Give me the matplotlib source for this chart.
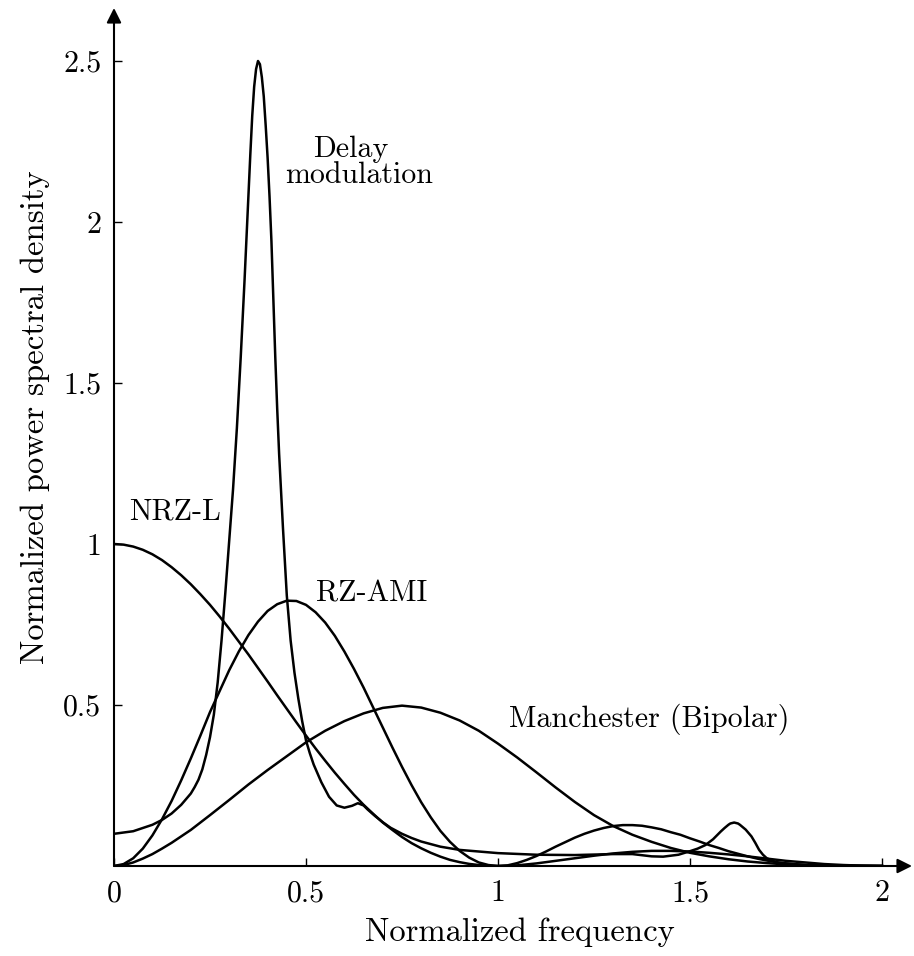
import numpy as np
import matplotlib
matplotlib.use('Agg')
import matplotlib.pyplot as plt

plt.rcParams['font.family'] = 'cmr10'
plt.rcParams['axes.formatter.use_mathtext'] = True

# ---- data ----
# NRZ-L
nrz_f = [0, 0.025, 0.05, 0.075, 0.1, 0.125, 0.15, 0.175, 0.2, 0.225, 0.25, 0.275,
         0.3, 0.325, 0.35, 0.375, 0.4, 0.425, 0.45, 0.475, 0.5, 0.525, 0.55, 0.575,
         0.6, 0.625, 0.65, 0.675, 0.7, 0.725, 0.75, 0.775, 0.8, 0.825, 0.85, 0.875,
         0.9, 0.925, 0.95, 0.975, 1.0, 1.025, 1.05, 1.075, 1.1, 1.125, 1.15, 1.175,
         1.2, 1.25, 1.3, 1.35, 1.4, 1.45, 1.5, 1.55, 1.6, 1.65, 1.7, 1.75, 1.8,
         1.85, 1.9, 1.95, 2.0]
nrz_p = [1.0, 0.998, 0.992, 0.982, 0.968, 0.950, 0.928, 0.903, 0.875, 0.844, 0.811,
         0.775, 0.737, 0.697, 0.657, 0.615, 0.573, 0.530, 0.488, 0.446, 0.405, 0.365,
         0.327, 0.290, 0.255, 0.221, 0.190, 0.162, 0.135, 0.112, 0.090, 0.071, 0.055,
         0.041, 0.029, 0.019, 0.012, 0.0065, 0.003, 0.0007, 0.0, 0.0006, 0.002,
         0.005, 0.008, 0.012, 0.016, 0.020, 0.024, 0.032, 0.039, 0.044, 0.047, 0.047,
         0.045, 0.041, 0.036, 0.030, 0.023, 0.016, 0.011, 0.006, 0.003, 0.001, 0.0]

# RZ-AMI
ami_f = [0, 0.025, 0.05, 0.075, 0.1, 0.125, 0.15, 0.175, 0.2, 0.225, 0.25, 0.275,
         0.3, 0.325, 0.35, 0.375, 0.4, 0.425, 0.45, 0.475, 0.5, 0.525, 0.55, 0.575,
         0.6, 0.625, 0.65, 0.675, 0.7, 0.725, 0.75, 0.775, 0.8, 0.825, 0.85, 0.875,
         0.9, 0.925, 0.95, 0.975, 1.0, 1.025, 1.05, 1.075, 1.1, 1.125, 1.15, 1.175,
         1.2, 1.225, 1.25, 1.275, 1.3, 1.325, 1.35, 1.375, 1.4, 1.425, 1.45, 1.475,
         1.5, 1.525, 1.55, 1.575, 1.6, 1.625, 1.65, 1.675, 1.7, 1.725, 1.75, 1.775,
         1.8, 1.85, 1.9, 2.0]
ami_p = [0.0, 0.006, 0.024, 0.054, 0.095, 0.145, 0.202, 0.266, 0.334, 0.405, 0.478,
         0.543, 0.608, 0.666, 0.717, 0.759, 0.792, 0.813, 0.824, 0.823, 0.811, 0.788,
         0.756, 0.715, 0.666, 0.612, 0.554, 0.492, 0.430, 0.368, 0.308, 0.251, 0.198,
         0.151, 0.109, 0.075, 0.047, 0.026, 0.011, 0.003, 0.0, 0.002, 0.009, 0.019,
         0.031, 0.045, 0.060, 0.074, 0.088, 0.100, 0.110, 0.118, 0.124, 0.127, 0.127,
         0.125, 0.120, 0.114, 0.105, 0.097, 0.086, 0.076, 0.065, 0.056, 0.046, 0.038,
         0.030, 0.023, 0.017, 0.012, 0.008, 0.005, 0.003, 0.001, 0.0, 0.0]

# Manchester (Bipolar)
man_f = [0, 0.025, 0.05, 0.075, 0.1, 0.125, 0.15, 0.175, 0.2, 0.25, 0.3, 0.35, 0.4,
         0.45, 0.5, 0.55, 0.6, 0.65, 0.7, 0.75, 0.8, 0.85, 0.9, 0.95, 1.0, 1.05, 1.1,
         1.15, 1.2, 1.25, 1.3, 1.35, 1.4, 1.45, 1.5, 1.55, 1.6, 1.65, 1.7, 1.75, 1.8,
         1.85, 1.9, 2.0]
man_p = [0.0, 0.003, 0.011, 0.023, 0.037, 0.054, 0.072, 0.092, 0.112, 0.158, 0.205,
         0.253, 0.298, 0.341, 0.384, 0.420, 0.450, 0.474, 0.491, 0.498, 0.492, 0.476,
         0.452, 0.420, 0.380, 0.337, 0.291, 0.244, 0.199, 0.158, 0.124, 0.097, 0.075,
         0.056, 0.041, 0.030, 0.021, 0.014, 0.009, 0.005, 0.003, 0.001, 0.0005, 0.0]

# Delay modulation
dm_f = [0, 0.05, 0.1, 0.125, 0.15, 0.175, 0.2, 0.21, 0.22, 0.23, 0.24, 0.25, 0.26,
        0.27, 0.28, 0.29, 0.30, 0.31, 0.32, 0.33, 0.34, 0.35, 0.355, 0.36, 0.365,
        0.37, 0.375, 0.38, 0.385, 0.39, 0.395, 0.40, 0.405, 0.41, 0.415, 0.42, 0.425,
        0.43, 0.44, 0.45, 0.46, 0.47, 0.48, 0.49, 0.50, 0.51, 0.52, 0.54, 0.56, 0.58,
        0.60, 0.62, 0.635, 0.65, 0.66, 0.68, 0.70, 0.72, 0.75, 0.775, 0.80, 0.85,
        0.9, 1.0, 1.1, 1.2, 1.3, 1.35, 1.4, 1.43, 1.47, 1.5, 1.52, 1.54, 1.56, 1.58,
        1.59, 1.6, 1.605, 1.615, 1.625, 1.63, 1.645, 1.66, 1.67, 1.68, 1.69, 1.70,
        1.715, 1.73, 1.8, 1.9, 2.0]
dm_p = [0.100, 0.108, 0.128, 0.143, 0.163, 0.190, 0.225, 0.245, 0.268, 0.300, 0.345,
        0.400, 0.470, 0.570, 0.700, 0.850, 1.010, 1.170, 1.360, 1.580, 1.820, 2.080,
        2.210, 2.330, 2.420, 2.475, 2.500, 2.490, 2.450, 2.390, 2.300, 2.200, 2.080,
        1.940, 1.760, 1.580, 1.420, 1.280, 1.050, 0.840, 0.700, 0.600, 0.520, 0.450,
        0.390, 0.350, 0.315, 0.260, 0.215, 0.188, 0.181, 0.187, 0.195, 0.188, 0.176,
        0.155, 0.136, 0.119, 0.100, 0.087, 0.076, 0.060, 0.050, 0.040, 0.035, 0.034,
        0.037, 0.037, 0.030, 0.029, 0.035, 0.046, 0.054, 0.065, 0.083, 0.107, 0.118,
        0.128, 0.132, 0.135, 0.132, 0.128, 0.113, 0.092, 0.072, 0.050, 0.035, 0.024,
        0.016, 0.010, 0.003, 0.001, 0.0]

xticks = [0, 0.5, 1, 1.5, 2]
xticklabels = ['0', '0.5', '1', '1.5', '2']
yticks = [0.5, 1, 1.5, 2, 2.5]
yticklabels = ['0.5', '1', '1.5', '2', '2.5']

fig = plt.figure(figsize=(9.14, 9.56), dpi=100)
ax = fig.add_axes([114/914, 90/956, 798/914, 858/956])

for f, p in [(nrz_f, nrz_p), (ami_f, ami_p), (man_f, man_p), (dm_f, dm_p)]:
    ax.plot(f, p, color='black', lw=1.8, solid_joinstyle='round')

ax.set_xlim(0, 798/384)
ax.set_ylim(0, 858/322)

for s in ax.spines.values():
    s.set_visible(False)

# axes drawn as arrows
ax.annotate('', xy=(0, 1), xytext=(0, 0), xycoords='axes fraction',
            arrowprops=dict(arrowstyle='-|>', color='black', lw=1.5,
                            mutation_scale=22, shrinkA=0, shrinkB=0))
ax.annotate('', xy=(1, 0), xytext=(0, 0), xycoords='axes fraction',
            arrowprops=dict(arrowstyle='-|>', color='black', lw=1.5,
                            mutation_scale=22, shrinkA=0, shrinkB=0))

ax.set_xticks(xticks)
ax.set_xticklabels(xticklabels)
ax.set_yticks(yticks)
ax.set_yticklabels(yticklabels)
ax.tick_params(direction='in', length=6, width=1, labelsize=21.5)
ax.tick_params(axis='x', pad=10)
ax.tick_params(axis='y', pad=9)

ax.set_xlabel('Normalized frequency', fontsize=23.5)
ax.xaxis.set_label_coords(0.509, -0.06)
ax.set_ylabel('Normalized power spectral density', fontsize=23.5)
ax.yaxis.set_label_coords(-0.08, 0.523)

# curve labels
fs = 21.6
ax.text(0.159, 1.075, 'NRZ-L', fontsize=fs, ha='center', va='baseline')
ax.text(0.672, 0.82, 'RZ-AMI', fontsize=fs, ha='center', va='baseline')
ax.text(1.393, 0.432, 'Manchester (Bipolar)', fontsize=fs, ha='center', va='baseline')
ax.text(0.617, 2.202, 'Delay', fontsize=fs, ha='center', va='baseline')
ax.text(0.638, 2.121, 'modulation', fontsize=fs, ha='center', va='baseline')

plt.savefig('out.png', dpi=100)
